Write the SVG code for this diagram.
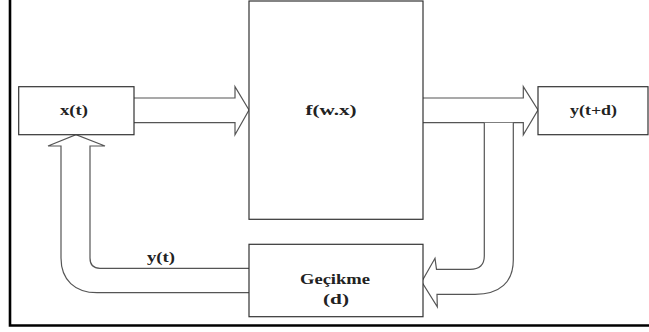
<svg xmlns="http://www.w3.org/2000/svg" width="649" height="332" viewBox="0 0 649 332">
<style>
.box{fill:#fff;stroke:#333;stroke-width:1.2}
.arr{fill:#fff;stroke:#555;stroke-width:1.2;stroke-linejoin:miter}
.lbl{font-family:"Liberation Serif",serif;font-weight:bold;font-size:14px;fill:#222;text-anchor:middle}
.frame{fill:none;stroke:#000;stroke-width:2.6}
</style>
<rect width="649" height="332" fill="#fff"/>
<path class="frame" d="M10,0 V325.5 H649"/>
<g id="connectors">
<path class="arr" d="M134,98 H235 V86.7 L249,110 L235,134.7 V122.7 H134"/>
<path class="arr" d="M423,98 H523.3 V86.7 L538,110 L523.3,134.7 V122.7 H423"/>
<path class="arr" d="M484.3,122.7 V256 C484.3,265 480,269.3 470,269.3 H436.5 L435,258.3 L421.7,281.7 L437.3,306.7 L437,294.3 H475 C500,294.3 513.3,282 513.3,260 V122.7"/>
<path class="arr" d="M249,268.3 H100 C93,268.3 90,265 90,258 V146 H105 L76,134.7 L48,146 H61 V258 C61,280 75,292.7 97,292.7 H249"/>
<text class="lbl" x="161" y="262" textLength="28" lengthAdjust="spacingAndGlyphs">y(t)</text>
</g>
<g id="node-x">
<rect class="box" x="18.7" y="86.7" width="115.3" height="48"/>
<text class="lbl" x="74" y="115" textLength="28" lengthAdjust="spacingAndGlyphs">x(t)</text>
</g>
<g id="node-f">
<rect class="box" x="249" y="1" width="174" height="218.3"/>
<text class="lbl" x="331" y="115" textLength="51" lengthAdjust="spacingAndGlyphs">f(w.x)</text>
</g>
<g id="node-y">
<rect class="box" x="538" y="86.7" width="110" height="48"/>
<text class="lbl" x="593.5" y="115" textLength="47" lengthAdjust="spacingAndGlyphs">y(t+d)</text>
</g>
<g id="node-delay">
<rect class="box" x="249" y="244.3" width="174" height="72.4"/>
<text class="lbl" x="335" y="284" textLength="70" lengthAdjust="spacingAndGlyphs">Geçikme</text>
<text class="lbl" x="336" y="303.5" textLength="26" lengthAdjust="spacingAndGlyphs">(d)</text>
</g>
</svg>
